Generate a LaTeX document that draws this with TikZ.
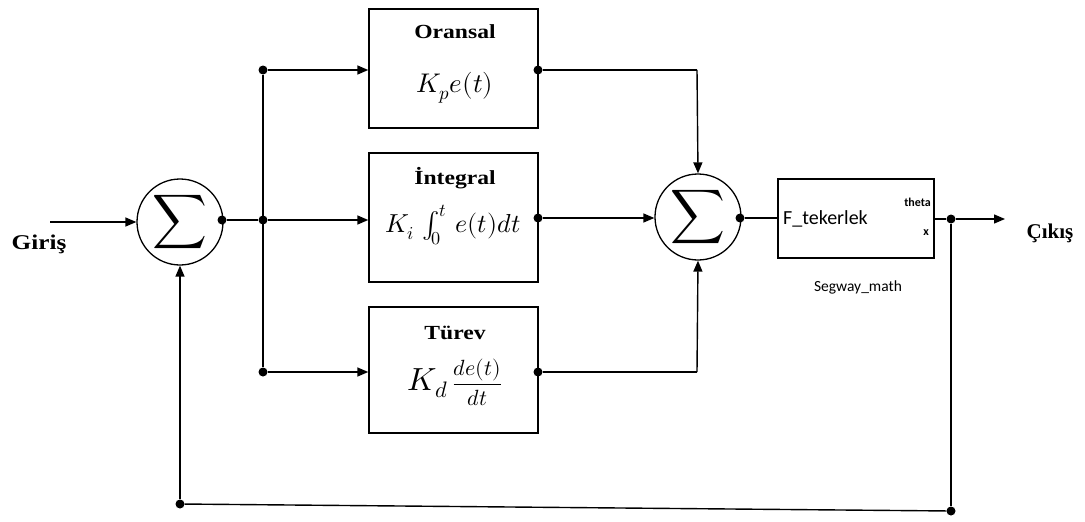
\documentclass[tikz,border=0pt]{standalone}
\usepackage{fontspec}
\usepackage{unicode-math}
\setmainfont{Liberation Serif}
\setmathfont{Latin Modern Math}
\newfontfamily\calib{Carlito}
\usetikzlibrary{arrows.meta}
\tikzset{
  ln/.style={line width=1.4pt},
  arr/.style={ln,-{Triangle[length=11pt,width=9pt]}},
  blk/.style={draw,line width=1.4pt,inner sep=0pt},
  sumc/.style={draw,circle,line width=1.3pt,inner sep=0pt,minimum size=86pt},
  dotc/.style={circle,fill=black,inner sep=0pt,minimum size=9pt},
  ttl/.style={font=\fontsize{20}{22}\selectfont\bfseries,inner sep=0pt,xscale=1.18},
  mth/.style={font=\fontsize{27}{29}\selectfont,inner sep=0pt},
  lbl/.style={font=\fontsize{21}{24}\selectfont\bfseries,inner sep=0pt}
}
\newcommand{\bigsig}{{\fontsize{38}{40}\selectfont$\displaystyle\sum$}}
\begin{document}
\begin{tikzpicture}[x=1pt,y=-1pt]
\useasboundingbox (0,0) rectangle (1085,522);
% summers
\node[sumc] (s1) at (180,222) {\bigsig};
\node[sumc] (s2) at (698,217) {\bigsig};
% blocks
\node[blk,minimum width=169pt,minimum height=119pt] (bp) at (453.5,68.5) {};
\node[blk,minimum width=169pt,minimum height=129pt] (bi) at (453.5,217.5) {};
\node[blk,minimum width=169pt,minimum height=126pt] (bd) at (453.5,370) {};
\node[blk,minimum width=156pt,minimum height=79pt] (bf) at (856,218.5) {};
% block texts
\node[ttl] (tp) at (455,32) {Oransal};
\node[mth] (mp) at (455,88) {$K_p e(t)$};
\node[ttl] (ti) at (455,178) {İntegral};
\node[mth,font=\fontsize{26}{28}\selectfont] (mi) at (453,225) {$K_i\,\int_0^t\, e(t)dt$};
\node[ttl] (td) at (455,333) {Türev};
\node[mth] (md) at (455,382) {{\fontsize{32}{34}\selectfont$K_d$}\,{\fontsize{22}{24}\selectfont$\displaystyle\frac{de(t)}{dt}$}};
\node[font=\calib\fontsize{20}{22}\selectfont,anchor=west,inner sep=0pt] (ft) at (783,219) {F\_tekerlek};
\node[font=\calib\fontsize{12}{14}\selectfont\bfseries,anchor=east,inner sep=0pt] (fth) at (931,202) {theta};
\node[font=\calib\fontsize{12}{14}\selectfont\bfseries,anchor=east,inner sep=0pt] (fx) at (929,233) {x};
\node[font=\calib\fontsize{15.5}{17}\selectfont,inner sep=0pt] (seg) at (858,287) {Segway\_math};
% labels
\node[lbl,xscale=1.2] (gin) at (39,244) {Giriş};
\node[lbl] (cik) at (1050,233) {Çıkış};
% coordinates / dots
\coordinate (inS) at (50,222);
\node[dotc] (o1) at (222,220) {};
\node[dotc] (j) at (263,220) {};
\node[dotc] (jt) at (263,70) {};
\node[dotc] (jb) at (263,372) {};
\node[dotc] (op) at (538,70) {};
\node[dotc] (oi) at (538,218) {};
\node[dotc] (od) at (538,372) {};
\node[dotc] (o2) at (740,218) {};
\node[dotc] (jo) at (951,219) {};
\coordinate (outE) at (1005,219);
\node[dotc] (fbR) at (951,511) {};
\node[dotc] (fbL) at (180,504) {};
\coordinate (cp) at (697,70);
\coordinate (cd) at (697,372);
% connectors
\draw[arr] (inS) -- (s1.west |- inS);
\draw[ln] (o1) -- (j);
\draw[ln] (jt) -- (jb);
\draw[arr] (jt) -- (bp.west |- jt);
\draw[arr] (j) -- (bi.west |- j);
\draw[arr] (jb) -- (bd.west |- jb);
\draw[ln] (op) -- (cp);
\draw[arr] (cp) -- (s2.north);
\draw[arr] (oi) -- (s2.west |- oi);
\draw[ln] (od) -- (cd);
\draw[arr] (cd) -- (s2.south);
\draw[ln] (o2) -- (bf.west |- o2);
\draw[ln] (bf.east |- jo) -- (jo);
\draw[arr] (jo) -- (outE);
\draw[ln] (jo) -- (fbR);
\draw[ln] (fbR) -- (fbL);
\draw[arr] (fbL) -- (s1.south);
\end{tikzpicture}
\end{document}
